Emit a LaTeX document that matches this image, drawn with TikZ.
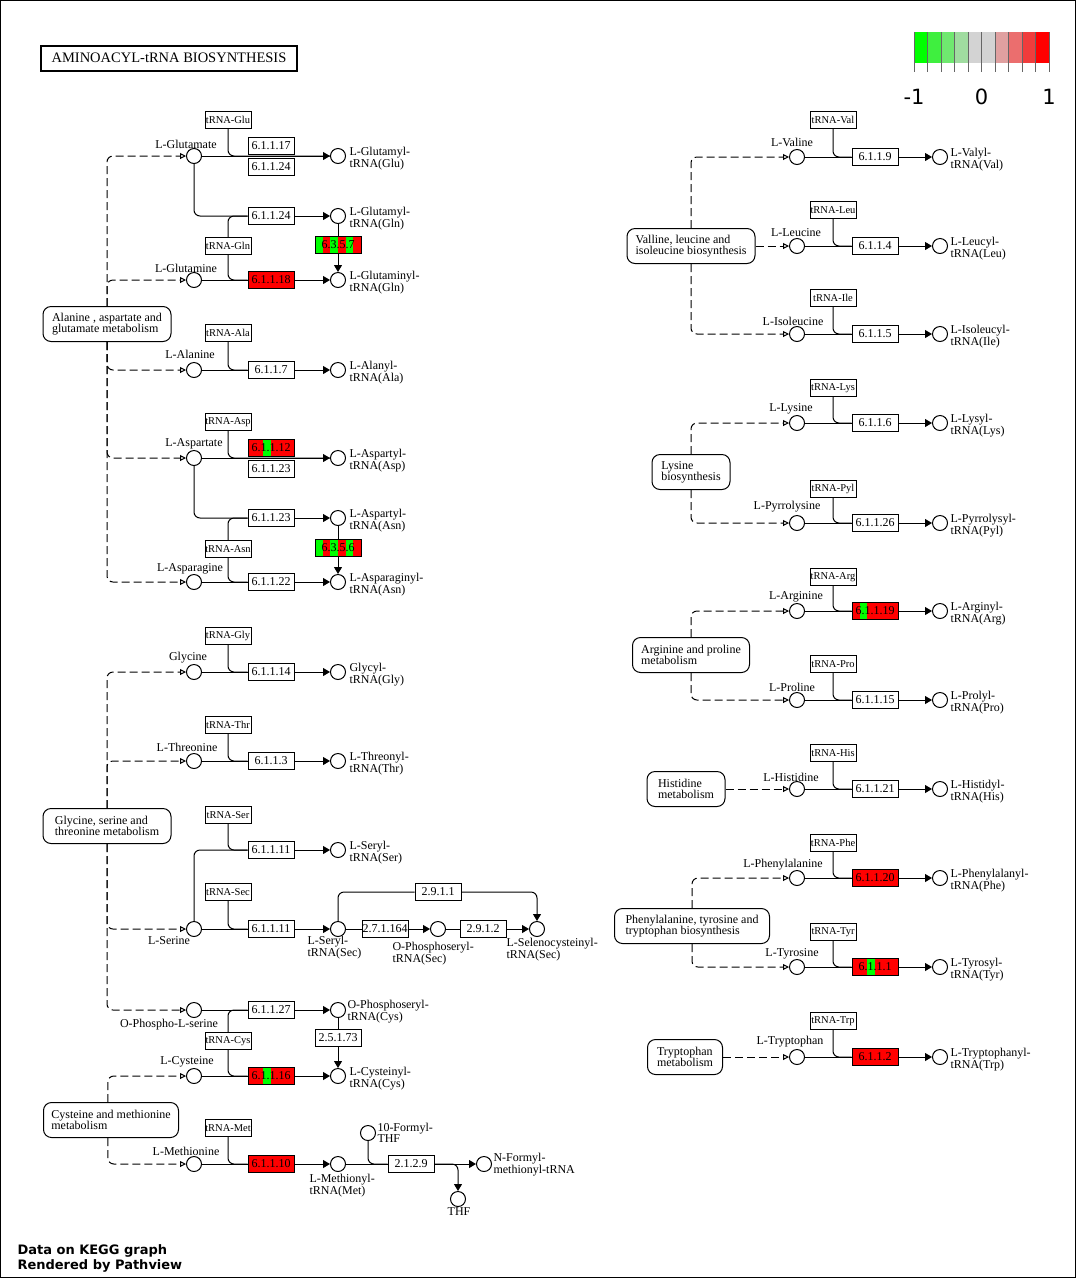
\documentclass[tikz,border=0pt]{standalone}
\usepackage{fontspec}
\setmainfont{Liberation Serif}
\newfontfamily\dvs{DejaVu Sans}
\usetikzlibrary{arrows.meta}
\definecolor{kgred}{HTML}{FF0000}
\definecolor{kggreen}{HTML}{00FF00}
\definecolor{lgA}{HTML}{00FF00}
\definecolor{lgB}{HTML}{3FEF3F}
\definecolor{lgC}{HTML}{6FE86F}
\definecolor{lgD}{HTML}{A0DCA0}
\definecolor{lgE}{HTML}{D3D3D3}
\definecolor{lgF}{HTML}{E0A0A0}
\definecolor{lgG}{HTML}{EB6E6E}
\definecolor{lgH}{HTML}{F03C3C}
\definecolor{lgI}{HTML}{FF0000}
\newcommand{\kf}{\fontsize{12}{10.5}\selectfont}

\begin{document}
\begin{tikzpicture}[x=1pt,y=-1pt,line width=1pt,
  cpd/.style={draw,circle,fill=white,minimum size=15pt,inner sep=0pt},
  enz/.style={draw,fill=white,minimum width=46pt,minimum height=17pt,inner sep=0pt,font=\kf},
  enzr/.style={enz,fill=kgred},
  multi/.style={enz,fill=none,path picture={
    \foreach \col [count=\i from 0] in {#1}
      \fill[\col] ([xshift=\i*46/6*1pt]path picture bounding box.south west)
        rectangle ([xshift=(\i+1)*46/6*1pt]path picture bounding box.north west);}},
  trna/.style={draw,fill=white,minimum width=46pt,minimum height=17pt,inner sep=0pt,font=\fontsize{10.5}{10}\selectfont},
  map/.style={draw,rounded corners=8pt,minimum height=35pt,inner sep=0pt,align=left,font=\fontsize{12}{11}\selectfont},
  lbl/.style={inner sep=0pt,font=\kf},
  prod/.style={lbl,align=left,anchor=west},
  conv/.style={-{Triangle[length=7pt,width=8pt]}},
  link/.style={dash pattern=on 8pt off 4pt,rounded corners=6pt,-{Triangle[open,length=6pt,width=6pt]}},
  rc/.style={rounded corners=6pt}]
  \useasboundingbox (0,0) rectangle (1076,1278);
  \draw (0.5,0.5) rectangle (1075.5,1277.5);
  \node[draw,line width=2pt,minimum width=256pt,minimum height=25pt,font=\fontsize{14.5}{14}\selectfont] (title) at (169,58) {AMINOACYL-tRNA BIOSYNTHESIS};

  % legend
  \fill[lgA] ( 914.0,32) rectangle ( 927.5,63);
  \fill[lgB] ( 927.5,32) rectangle ( 941.0,63);
  \fill[lgC] ( 941.0,32) rectangle ( 954.5,63);
  \fill[lgD] ( 954.5,32) rectangle ( 968.0,63);
  \fill[lgE] ( 968.0,32) rectangle ( 981.5,63);
  \fill[lgE] ( 981.5,32) rectangle ( 995.0,63);
  \fill[lgF] ( 995.0,32) rectangle (1008.5,63);
  \fill[lgG] (1008.5,32) rectangle (1022.0,63);
  \fill[lgH] (1022.0,32) rectangle (1035.5,63);
  \fill[lgI] (1035.5,32) rectangle (1049.0,63);
  \draw[black!60] ( 914.0,32) -- ( 914.0,72);
  \draw[black!60] ( 927.5,32) -- ( 927.5,72);
  \draw[black!60] ( 941.0,32) -- ( 941.0,72);
  \draw[black!60] ( 954.5,32) -- ( 954.5,72);
  \draw[black!60] ( 968.0,32) -- ( 968.0,72);
  \draw[black!60] ( 981.5,32) -- ( 981.5,72);
  \draw[black!60] ( 995.0,32) -- ( 995.0,72);
  \draw[black!60] (1008.5,32) -- (1008.5,72);
  \draw[black!60] (1022.0,32) -- (1022.0,72);
  \draw[black!60] (1035.5,32) -- (1035.5,72);
  \draw[black!60] (1049.0,32) -- (1049.0,72);
  \node[font=\dvs\fontsize{21}{21}\selectfont] (legmin) at ( 914,97) {-1};
  \node[font=\dvs\fontsize{21}{21}\selectfont] (legzero) at ( 981.5,97) {0};
  \node[font=\dvs\fontsize{21}{21}\selectfont] (legmax) at (1049,97) {1};

  % alanine, aspartate and glutamate
  \node[map,minimum width=128pt] (mAla) at (107,324) {Alanine , aspartate and\\glutamate metabolism};
  \node[trna] (tGlu) at (228,120) {tRNA-Glu};
  \node[cpd] (cGlu) at (194,156) {};
  \node[lbl] (lGlu) at (186,144) {L-Glutamate};
  \node[enz] (e61117) at (271,146) {6.1.1.17};
  \node[enz] (e61124a) at (271,167) {6.1.1.24};
  \node[cpd] (pGluGlu) at (338,156) {};
  \node[prod] (lGluGlu) at (349,159) {L-Glutamyl-\\tRNA(Glu)};
  \node[enz] (e61124b) at (271,216) {6.1.1.24};
  \node[cpd] (pGluGln) at (338,216) {};
  \node[prod] (lGluGln) at (349,219) {L-Glutamyl-\\tRNA(Gln)};
  \node[trna] (tGln) at (228,246) {tRNA-Gln};
  \node[multi={kggreen,kgred,kggreen,kgred,kggreen,kgred}] (e6357) at (338,245) {6.3.5.7};
  \node[cpd] (cGln) at (194,280) {};
  \node[lbl] (lGln) at (186,268) {L-Glutamine};
  \node[enzr] (e61118) at (271,280) {6.1.1.18};
  \node[cpd] (pGln) at (338,280) {};
  \node[prod] (lGlnGln) at (349,283) {L-Glutaminyl-\\tRNA(Gln)};
  \node[trna] (tAla) at (228,333) {tRNA-Ala};
  \node[cpd] (cAla) at (194,370) {};
  \node[lbl] (lAla) at (190,354) {L-Alanine};
  \node[enz] (e6117) at (271,370) {6.1.1.7};
  \node[cpd] (pAla) at (338,370) {};
  \node[prod] (lAlaAla) at (349,373) {L-Alanyl-\\tRNA(Ala)};
  \node[trna] (tAsp) at (228,422) {tRNA-Asp};
  \node[cpd] (cAsp) at (194,458) {};
  \node[lbl] (lAsp) at (194,444) {L-Aspartate};
  \node[multi={kgred,kgred,kggreen,kgred,kgred,kgred}] (e61112) at (271,448) {6.1.1.12};
  \node[enz] (e61123a) at (271,469) {6.1.1.23};
  \node[cpd] (pAspAsp) at (338,458) {};
  \node[prod] (lAspAsp) at (349,461) {L-Aspartyl-\\tRNA(Asp)};
  \node[enz] (e61123b) at (271,518) {6.1.1.23};
  \node[cpd] (pAspAsn) at (338,518) {};
  \node[prod] (lAspAsn) at (349,521) {L-Aspartyl-\\tRNA(Asn)};
  \node[trna] (tAsn) at (228,549) {tRNA-Asn};
  \node[multi={kggreen,kgred,kggreen,kgred,kggreen,kgred}] (e6356) at (338,548) {6.3.5.6};
  \node[cpd] (cAsn) at (194,582) {};
  \node[lbl] (lAsn) at (190,569) {L-Asparagine};
  \node[enz] (e61122) at (271,582) {6.1.1.22};
  \node[cpd] (pAsn) at (338,582) {};
  \node[prod] (lAsnAsn) at (349,585) {L-Asparaginyl-\\tRNA(Asn)};
  \draw[link] (mAla.north) |- (cGlu);
  \draw[link] (mAla.north) |- (cGln);
  \draw[link] (mAla.south) |- (cAla);
  \draw[link] (mAla.south) |- (cAsp);
  \draw[link] (mAla.south) |- (cAsn);
  \draw[conv] (cGlu) -- (pGluGlu);
  \draw[rc] (tGlu) |- (pGluGlu);
  \draw[rc] (cGlu) |- (e61124b);
  \draw[conv] (e61124b) -- (pGluGln);
  \draw[rc] (tGln) |- (e61124b);
  \draw[rc] (tGln) |- (e61118);
  \draw (cGln) -- (e61118);
  \draw[conv] (e61118) -- (pGln);
  \draw (pGluGln) -- (e6357);
  \draw[conv] (e6357) -- (pGln);
  \draw (cAla) -- (e6117);
  \draw[conv] (e6117) -- (pAla);
  \draw[rc] (tAla) |- (e6117);
  \draw[conv] (cAsp) -- (pAspAsp);
  \draw[rc] (tAsp) |- (pAspAsp);
  \draw[rc] (cAsp) |- (e61123b);
  \draw[conv] (e61123b) -- (pAspAsn);
  \draw[rc] (tAsn) |- (e61123b);
  \draw[rc] (tAsn) |- (e61122);
  \draw (cAsn) -- (e61122);
  \draw[conv] (e61122) -- (pAsn);
  \draw (pAspAsn) -- (e6356);
  \draw[conv] (e6356) -- (pAsn);

  % glycine, serine and threonine
  \node[map,minimum width=128pt] (mGly) at (107,826) {Glycine, serine and\\threonine metabolism};
  \node[trna] (tGly) at (228,636) {tRNA-Gly};
  \node[cpd] (cGly) at (194,672) {};
  \node[lbl] (lGly) at (188,658) {Glycine};
  \node[enz] (e61114) at (271,672) {6.1.1.14};
  \node[cpd] (pGly) at (338,672) {};
  \node[prod] (lGlyGly) at (349,675) {Glycyl-\\tRNA(Gly)};
  \node[trna] (tThr) at (228,725) {tRNA-Thr};
  \node[cpd] (cThr) at (194,761) {};
  \node[lbl] (lThr) at (187,747) {L-Threonine};
  \node[enz] (e6113) at (271,761) {6.1.1.3};
  \node[cpd] (pThr) at (338,761) {};
  \node[prod] (lThrThr) at (349,764) {L-Threonyl-\\tRNA(Thr)};
  \node[trna] (tSer) at (228,815) {tRNA-Ser};
  \node[enz] (e61111a) at (271,850) {6.1.1.11};
  \node[cpd] (pSer) at (338,850) {};
  \node[prod] (lSerSer) at (349,853) {L-Seryl-\\tRNA(Ser)};
  \node[trna] (tSec) at (228,892) {tRNA-Sec};
  \node[cpd] (cSer) at (194,929) {};
  \node[lbl] (lSer) at (169,941) {L-Serine};
  \node[enz] (e61111b) at (271,929) {6.1.1.11};
  \node[cpd] (pSerSec) at (338,929) {};
  \node[prod] (lSerSec) at (307,948) {L-Seryl-\\tRNA(Sec)};
  \node[enz] (e2911) at (438,892) {2.9.1.1};
  \node[enz] (e271164) at (385,929) {2.7.1.164};
  \node[cpd] (pOPSec) at (438,929) {};
  \node[prod] (lOPSec) at (392,954) {O-Phosphoseryl-\\tRNA(Sec)};
  \node[enz] (e2912) at (483,929) {2.9.1.2};
  \node[cpd] (pSelSec) at (537,929) {};
  \node[prod] (lSelSec) at (506,950) {L-Selenocysteinyl-\\tRNA(Sec)};
  \draw[link] (mGly.north) |- (cGly);
  \draw[link] (mGly.north) |- (cThr);
  \draw[link] (mGly.south) |- (cSer);
  \draw (cGly) -- (e61114);
  \draw[conv] (e61114) -- (pGly);
  \draw[rc] (tGly) |- (e61114);
  \draw (cThr) -- (e6113);
  \draw[conv] (e6113) -- (pThr);
  \draw[rc] (tThr) |- (e6113);
  \draw[rc] (cSer) |- (e61111a);
  \draw[conv] (e61111a) -- (pSer);
  \draw[rc] (tSer) |- (e61111a);
  \draw (cSer) -- (e61111b);
  \draw[conv] (e61111b) -- (pSerSec);
  \draw[rc] (tSec) |- (e61111b);
  \draw (pSerSec) -- (e271164);
  \draw[conv] (e271164) -- (pOPSec);
  \draw (pOPSec) -- (e2912);
  \draw[conv] (e2912) -- (pSelSec);
  \draw[rc] (pSerSec) |- (e2911);
  \draw[conv,rc] (e2911) -| (pSelSec);

  % cysteine and methionine
  \node[map,minimum width=135pt] (mCys) at (111,1120) {Cysteine and methionine\\metabolism};
  \node[cpd] (cOPSer) at (194,1010) {};
  \node[lbl] (lOPSer) at (169,1025) {O-Phospho-L-serine};
  \node[enz] (e61127) at (271,1010) {6.1.1.27};
  \node[cpd] (pOPCys) at (338,1010) {};
  \node[prod] (lOPCys) at (347,1012) {O-Phosphoseryl-\\tRNA(Cys)};
  \node[trna] (tCys) at (228,1041) {tRNA-Cys};
  \node[enz] (e25173) at (338,1038) {2.5.1.73};
  \node[cpd] (cCys) at (194,1076) {};
  \node[lbl] (lCys) at (187,1062) {L-Cysteine};
  \node[multi={kgred,kgred,kggreen,kgred,kgred,kgred}] (e61116) at (271,1076) {6.1.1.16};
  \node[cpd] (pCys) at (338,1076) {};
  \node[prod] (lCysCys) at (349,1079) {L-Cysteinyl-\\tRNA(Cys)};
  \node[trna] (tMet) at (228,1128) {tRNA-Met};
  \node[cpd] (cMet) at (194,1164) {};
  \node[lbl] (lMet) at (186,1151) {L-Methionine};
  \node[enzr] (e61110) at (271,1164) {6.1.1.10};
  \node[cpd] (pMet) at (338,1164) {};
  \node[prod] (lMetMet) at (309,1186) {L-Methionyl-\\tRNA(Met)};
  \node[cpd] (cFTHF) at (368,1133) {};
  \node[prod] (lFTHF) at (377,1133) {10-Formyl-\\THF};
  \node[enz] (e2129) at (411,1164) {2.1.2.9};
  \node[cpd] (pFMet) at (484,1164) {};
  \node[prod] (lFMet) at (493,1165) {N-Formyl-\\methionyl-tRNA};
  \node[cpd] (cTHF) at (458,1199) {};
  \node[lbl] (lTHF) at (459,1212) {THF};
  \draw[link] (mGly.south) |- (cOPSer);
  \draw[link] (mCys.100) |- (cCys);
  \draw[link] (mCys.260) |- (cMet);
  \draw (cOPSer) -- (e61127);
  \draw[conv] (e61127) -- (pOPCys);
  \draw[rc] (tCys) |- (e61127);
  \draw[rc] (tCys) |- (e61116);
  \draw (pOPCys) -- (e25173);
  \draw[conv] (e25173) -- (pCys);
  \draw (cCys) -- (e61116);
  \draw[conv] (e61116) -- (pCys);
  \draw (cMet) -- (e61110);
  \draw[conv] (e61110) -- (pMet);
  \draw[rc] (tMet) |- (e61110);
  \draw (pMet) -- (e2129);
  \draw[conv] (e2129) -- (pFMet);
  \draw[rc] (cFTHF) |- (e2129);
  \draw[conv,rc] (e2129) -| (cTHF);

  % valine, leucine and isoleucine
  \node[map,minimum width=128pt] (mVal) at (691,246) {Valline, leucine and\\isoleucine biosynthesis};
  \node[trna] (tVal) at (833,120) {tRNA-Val};
  \node[cpd] (cVal) at (797,157) {};
  \node[lbl] (lVal) at (792,142) {L-Valine};
  \node[enz] (e6119) at (875,157) {6.1.1.9};
  \node[cpd] (pVal) at (940,157) {};
  \node[prod] (lValVal) at (950,160) {L-Valyl-\\tRNA(Val)};
  \node[trna] (tLeu) at (833,210) {tRNA-Leu};
  \node[cpd] (cLeu) at (797,246) {};
  \node[lbl] (lLeu) at (796,233) {L-Leucine};
  \node[enz] (e6114) at (875,246) {6.1.1.4};
  \node[cpd] (pLeu) at (940,246) {};
  \node[prod] (lLeuLeu) at (950,249) {L-Leucyl-\\tRNA(Leu)};
  \node[trna] (tIle) at (833,298) {tRNA-Ile};
  \node[cpd] (cIle) at (797,334) {};
  \node[lbl] (lIle) at (793,321) {L-Isoleucine};
  \node[enz] (e6115) at (875,334) {6.1.1.5};
  \node[cpd] (pIle) at (940,334) {};
  \node[prod] (lIleIle) at (950,337) {L-Isoleucyl-\\tRNA(Ile)};
  \draw[link] (mVal.north) |- (cVal);
  \draw[link] (mVal) -- (cLeu);
  \draw[link] (mVal.south) |- (cIle);
  \draw (cVal) -- (e6119);
  \draw[conv] (e6119) -- (pVal);
  \draw[rc] (tVal) |- (e6119);
  \draw (cLeu) -- (e6114);
  \draw[conv] (e6114) -- (pLeu);
  \draw[rc] (tLeu) |- (e6114);
  \draw (cIle) -- (e6115);
  \draw[conv] (e6115) -- (pIle);
  \draw[rc] (tIle) |- (e6115);

  % lysine
  \node[map,minimum width=78pt] (mLys) at (691,472) {Lysine\\biosynthesis};
  \node[trna] (tLys) at (833,388) {tRNA-Lys};
  \node[cpd] (cLys) at (797,423) {};
  \node[lbl] (lLys) at (791,409) {L-Lysine};
  \node[enz] (e6116) at (875,423) {6.1.1.6};
  \node[cpd] (pLys) at (940,423) {};
  \node[prod] (lLysLys) at (950,426) {L-Lysyl-\\tRNA(Lys)};
  \node[trna] (tPyl) at (833,489) {tRNA-Pyl};
  \node[cpd] (cPyl) at (797,523) {};
  \node[lbl] (lPyl) at (787,507) {L-Pyrrolysine};
  \node[enz] (e61126) at (875,523) {6.1.1.26};
  \node[cpd] (pPyl) at (940,523) {};
  \node[prod] (lPylPyl) at (950,526) {L-Pyrrolysyl-\\tRNA(Pyl)};
  \draw[link] (mLys.north) |- (cLys);
  \draw[link] (mLys.south) |- (cPyl);
  \draw (cLys) -- (e6116);
  \draw[conv] (e6116) -- (pLys);
  \draw[rc] (tLys) |- (e6116);
  \draw (cPyl) -- (e61126);
  \draw[conv] (e61126) -- (pPyl);
  \draw[rc] (tPyl) |- (e61126);

  % arginine and proline
  \node[map,minimum width=117pt] (mArg) at (691,655) {Arginine and proline\\metabolism};
  \node[trna] (tArg) at (833,577) {tRNA-Arg};
  \node[cpd] (cArg) at (797,611) {};
  \node[lbl] (lArg) at (796,597) {L-Arginine};
  \node[multi={kgred,kggreen,kgred,kgred,kgred,kgred}] (e61119) at (875,611) {6.1.1.19};
  \node[cpd] (pArg) at (940,611) {};
  \node[prod] (lArgArg) at (950,614) {L-Arginyl-\\tRNA(Arg)};
  \node[trna] (tPro) at (833,664) {tRNA-Pro};
  \node[cpd] (cPro) at (797,700) {};
  \node[lbl] (lPro) at (792,687) {L-Proline};
  \node[enz] (e61115) at (875,700) {6.1.1.15};
  \node[cpd] (pPro) at (940,700) {};
  \node[prod] (lProPro) at (950,703) {L-Prolyl-\\tRNA(Pro)};
  \draw[link] (mArg.north) |- (cArg);
  \draw[link] (mArg.south) |- (cPro);
  \draw (cArg) -- (e61119);
  \draw[conv] (e61119) -- (pArg);
  \draw[rc] (tArg) |- (e61119);
  \draw (cPro) -- (e61115);
  \draw[conv] (e61115) -- (pPro);
  \draw[rc] (tPro) |- (e61115);

  % histidine
  \node[map,minimum width=78pt] (mHis) at (686,789) {Histidine\\metabolism};
  \node[trna] (tHis) at (833,753) {tRNA-His};
  \node[cpd] (cHis) at (797,789) {};
  \node[lbl] (lHis) at (791,777) {L-Histidine};
  \node[enz] (e61121) at (875,789) {6.1.1.21};
  \node[cpd] (pHis) at (940,789) {};
  \node[prod] (lHisHis) at (950,792) {L-Histidyl-\\tRNA(His)};
  \draw[link] (mHis) -- (cHis);
  \draw (cHis) -- (e61121);
  \draw[conv] (e61121) -- (pHis);
  \draw[rc] (tHis) |- (e61121);

  % phenylalanine, tyrosine and tryptophan
  \node[map,minimum width=155pt] (mPhe) at (692,926) {Phenylalanine, tyrosine and\\tryptophan biosynthesis};
  \node[trna] (tPhe) at (833,843) {tRNA-Phe};
  \node[cpd] (cPhe) at (797,878) {};
  \node[lbl] (lPhe) at (783,865) {L-Phenylalanine};
  \node[enzr] (e61120) at (875,878) {6.1.1.20};
  \node[cpd] (pPhe) at (940,878) {};
  \node[prod] (lPhePhe) at (950,881) {L-Phenylalanyl-\\tRNA(Phe)};
  \node[trna] (tTyr) at (833,932) {tRNA-Tyr};
  \node[cpd] (cTyr) at (797,967) {};
  \node[lbl] (lTyr) at (792,954) {L-Tyrosine};
  \node[multi={kgred,kgred,kggreen,kgred,kgred,kgred}] (e6111) at (875,967) {6.1.1.1};
  \node[cpd] (pTyr) at (940,967) {};
  \node[prod] (lTyrTyr) at (950,970) {L-Tyrosyl-\\tRNA(Tyr)};
  \draw[link] (mPhe.north) |- (cPhe);
  \draw[link] (mPhe.south) |- (cTyr);
  \draw (cPhe) -- (e61120);
  \draw[conv] (e61120) -- (pPhe);
  \draw[rc] (tPhe) |- (e61120);
  \draw (cTyr) -- (e6111);
  \draw[conv] (e6111) -- (pTyr);
  \draw[rc] (tTyr) |- (e6111);

  % tryptophan
  \node[map,minimum width=75pt] (mTrp) at (685,1057) {Tryptophan\\metabolism};
  \node[trna] (tTrp) at (833,1021) {tRNA-Trp};
  \node[cpd] (cTrp) at (797,1057) {};
  \node[lbl] (lTrp) at (790,1042) {L-Tryptophan};
  \node[enzr] (e6112) at (875,1057) {6.1.1.2};
  \node[cpd] (pTrp) at (940,1057) {};
  \node[prod] (lTrpTrp) at (950,1060) {L-Tryptophanyl-\\tRNA(Trp)};
  \draw[link] (mTrp) -- (cTrp);
  \draw (cTrp) -- (e6112);
  \draw[conv] (e6112) -- (pTrp);
  \draw[rc] (tTrp) |- (e6112);

  \node[anchor=west,inner sep=0pt,align=left,font=\dvs\bfseries\fontsize{13}{15}\selectfont] (credit) at (17,1258) {Data on KEGG graph\\Rendered by Pathview};
\end{tikzpicture}
\end{document}
